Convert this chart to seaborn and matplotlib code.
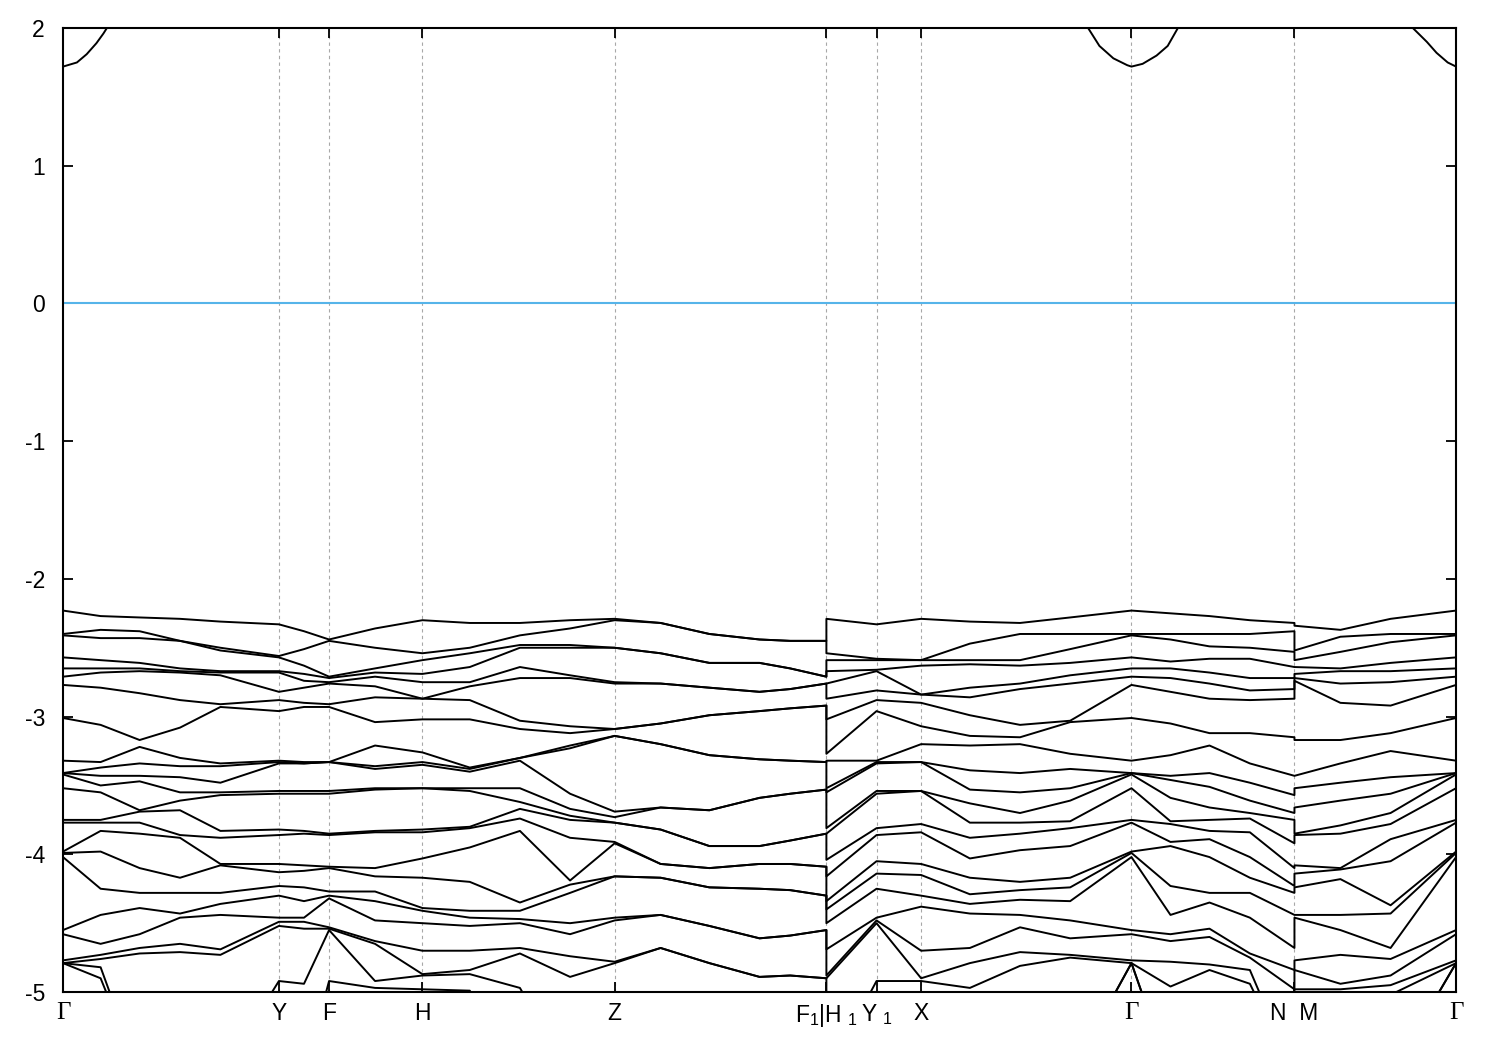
import matplotlib
matplotlib.use('Agg')
import matplotlib.pyplot as plt
import pandas as pd
import seaborn as sns

# --- High-symmetry path (k as fraction of total path length) ---
K_TICKS = [0.000, 0.155, 0.191, 0.258, 0.396, 0.548, 0.584, 0.616, 0.767, 0.884, 1.000]
K_LABELS = ['Γ', 'Y', 'F', 'H', 'Z', 'F$_1$|H $_1$', 'Y $_1$', 'X', 'Γ', 'N  M', 'Γ']

# --- Valence band energies (eV) read at each k point, top to bottom ---
E_GAMMA = [-2.23, -2.40, -2.41, -2.57, -2.65, -2.71, -2.77, -3.01, -3.32, -3.41, -3.41, -3.42,
           -3.52, -3.75, -3.77, -3.98, -3.99, -4.02, -4.55, -4.58, -4.77, -4.79, -4.79, -4.79]
E_027 = [-2.27, -2.37, -2.43, -2.59, -2.65, -2.68, -2.79, -3.06, -3.33, -3.37, -3.43, -3.50,
         -3.55, -3.75, -3.77, -3.83, -3.98, -4.25, -4.44, -4.65, -4.73, -4.76, -4.82, -4.90]
E_055 = [-2.28, -2.38, -2.43, -2.61, -2.65, -2.67, -2.83, -3.17, -3.22, -3.34, -3.43, -3.47,
         -3.68, -3.69, -3.77, -3.85, -4.10, -4.28, -4.39, -4.58, -4.68, -4.72]
E_084 = [-2.29, -2.45, -2.45, -2.65, -2.67, -2.68, -2.88, -3.08, -3.30, -3.36, -3.44, -3.55,
         -3.61, -3.68, -3.86, -3.88, -4.17, -4.28, -4.43, -4.46, -4.65, -4.71]
E_113 = [-2.31, -2.50, -2.52, -2.67, -2.68, -2.70, -2.91, -2.93, -3.34, -3.36, -3.48, -3.55,
         -3.57, -3.83, -3.88, -4.07, -4.08, -4.28, -4.36, -4.44, -4.69, -4.73]
E_Y = [-2.33, -2.56, -2.57, -2.67, -2.68, -2.82, -2.88, -2.96, -3.32, -3.33, -3.34, -3.54,
       -3.56, -3.82, -3.86, -4.07, -4.13, -4.23, -4.30, -4.46, -4.49, -4.52, -4.92]
E_173 = [-2.38, -2.51, -2.63, -2.69, -2.74, -2.79, -2.90, -2.93, -3.33, -3.34, -3.34, -3.54,
         -3.56, -3.83, -3.85, -4.08, -4.12, -4.24, -4.34, -4.46, -4.49, -4.54, -4.94]
E_F = [-2.44, -2.45, -2.71, -2.72, -2.75, -2.76, -2.91, -2.93, -3.33, -3.33, -3.33, -3.54,
       -3.56, -3.85, -3.86, -4.09, -4.10, -4.27, -4.30, -4.32, -4.53, -4.54, -4.55, -4.92]
E_224 = [-2.36, -2.50, -2.65, -2.68, -2.71, -2.78, -2.86, -3.04, -3.21, -3.36, -3.38, -3.52,
         -3.53, -3.83, -3.84, -4.10, -4.16, -4.27, -4.34, -4.48, -4.63, -4.65, -4.92, -4.97]
E_H = [-2.30, -2.54, -2.59, -2.69, -2.75, -2.87, -2.87, -3.02, -3.26, -3.33, -3.35, -3.52,
       -3.52, -3.82, -3.84, -4.03, -4.17, -4.39, -4.41, -4.50, -4.70, -4.87, -4.88, -4.98]
E_292 = [-2.32, -2.50, -2.54, -2.64, -2.75, -2.78, -2.88, -3.02, -3.37, -3.38, -3.40, -3.52,
         -3.54, -3.80, -3.81, -3.95, -4.20, -4.41, -4.46, -4.52, -4.70, -4.84, -4.87, -4.99]
E_328 = [-2.32, -2.41, -2.48, -2.50, -2.64, -2.72, -3.03, -3.09, -3.30, -3.30, -3.32, -3.52,
         -3.62, -3.67, -3.74, -3.83, -4.35, -4.41, -4.47, -4.50, -4.68, -4.72, -4.97]
E_364 = [-2.30, -2.36, -2.48, -2.50, -2.70, -2.72, -3.07, -3.12, -3.21, -3.23, -3.56, -3.67,
         -3.72, -3.75, -3.88, -4.19, -4.22, -4.28, -4.50, -4.58, -4.74, -4.89]
E_Z = [-2.29, -2.30, -2.50, -2.50, -2.75, -2.76, -3.09, -3.09, -3.14, -3.14, -3.69, -3.73,
       -3.77, -3.77, -3.91, -3.92, -4.16, -4.16, -4.46, -4.48, -4.78, -4.79]
# Z -> F1 bands are doubly degenerate
E_429 = [-2.32, -2.54, -2.76, -3.05, -3.20, -3.66, -3.82, -4.07, -4.17, -4.44, -4.68] * 2
E_464 = [-2.40, -2.61, -2.79, -2.99, -3.28, -3.68, -3.94, -4.10, -4.24, -4.52, -4.79] * 2
E_500 = [-2.44, -2.61, -2.82, -2.96, -3.31, -3.59, -3.94, -4.07, -4.25, -4.61, -4.89] * 2
E_522 = [-2.45, -2.65, -2.80, -2.94, -3.32, -3.56, -3.90, -4.07, -4.26, -4.59, -4.88] * 2
E_F1 = [-2.45, -2.71, -2.76, -2.92, -3.33, -3.53, -3.85, -4.09, -4.30, -4.55, -4.90] * 2
E_H1 = [-2.29, -2.54, -2.59, -2.67, -2.76, -2.87, -3.02, -3.27, -3.32, -3.52, -3.55, -3.81,
        -3.85, -4.04, -4.16, -4.34, -4.40, -4.50, -4.69, -4.88, -4.90]
E_Y1 = [-2.33, -2.58, -2.59, -2.66, -2.67, -2.81, -2.88, -2.96, -3.32, -3.33, -3.34, -3.54,
        -3.56, -3.81, -3.86, -4.05, -4.14, -4.25, -4.46, -4.48, -4.50, -4.92]
E_X = [-2.29, -2.59, -2.59, -2.63, -2.84, -2.84, -2.90, -3.07, -3.20, -3.33, -3.33, -3.54,
       -3.54, -3.78, -3.84, -4.07, -4.15, -4.30, -4.38, -4.70, -4.90, -4.92]
E_651 = [-2.31, -2.47, -2.59, -2.62, -2.79, -2.86, -2.99, -3.14, -3.21, -3.39, -3.53, -3.63,
         -3.77, -3.88, -4.03, -4.17, -4.29, -4.36, -4.43, -4.68, -4.79, -4.97]
E_687 = [-2.32, -2.40, -2.59, -2.63, -2.76, -2.80, -3.06, -3.15, -3.20, -3.41, -3.55, -3.70,
         -3.77, -3.85, -3.97, -4.20, -4.26, -4.33, -4.44, -4.53, -4.71, -4.81]
E_723 = [-2.28, -2.40, -2.51, -2.61, -2.70, -2.76, -3.03, -3.04, -3.27, -3.38, -3.52, -3.61,
         -3.76, -3.81, -3.94, -4.17, -4.24, -4.34, -4.48, -4.61, -4.73, -4.75]
E_795 = [-2.25, -2.40, -2.44, -2.60, -2.65, -2.72, -2.82, -3.05, -3.28, -3.43, -3.46, -3.59,
         -3.76, -3.78, -3.91, -3.94, -4.23, -4.44, -4.58, -4.63, -4.78, -4.96]
E_823 = [-2.27, -2.40, -2.49, -2.58, -2.68, -2.76, -2.87, -3.12, -3.21, -3.41, -3.51, -3.66,
         -3.75, -3.83, -3.89, -4.02, -4.28, -4.35, -4.54, -4.60, -4.80, -4.84]
E_852 = [-2.30, -2.40, -2.50, -2.58, -2.72, -2.81, -2.88, -3.12, -3.34, -3.48, -3.61, -3.70,
         -3.74, -3.84, -4.02, -4.17, -4.28, -4.46, -4.72, -4.75, -4.84, -4.94]
E_N = [-2.32, -2.38, -2.53, -2.64, -2.72, -2.80, -2.87, -3.15, -3.43, -3.57, -3.70, -3.75,
       -3.92, -4.10, -4.23, -4.28, -4.44, -4.68, -4.84, -4.98]
E_M = [-2.34, -2.52, -2.59, -2.64, -2.69, -2.72, -2.74, -3.17, -3.43, -3.52, -3.66, -3.85,
       -3.86, -4.08, -4.14, -4.24, -4.44, -4.46, -4.77, -4.84, -4.98]
E_917 = [-2.37, -2.42, -2.53, -2.65, -2.67, -2.76, -2.90, -3.17, -3.34, -3.48, -3.61, -3.79,
         -3.85, -4.10, -4.11, -4.18, -4.44, -4.55, -4.73, -4.94, -4.98]
E_953 = [-2.29, -2.40, -2.46, -2.61, -2.67, -2.75, -2.92, -3.12, -3.25, -3.44, -3.56, -3.70,
         -3.78, -3.89, -4.05, -4.37, -4.43, -4.68, -4.76, -4.88, -4.95, -5.02]

K_POINTS = [0.000, 0.027, 0.055, 0.084, 0.113, 0.155, 0.173, 0.191, 0.224, 0.258, 0.292,
            0.328, 0.364, 0.396, 0.429, 0.464, 0.500, 0.522, 0.548, 0.548, 0.584, 0.616,
            0.651, 0.687, 0.723, 0.767, 0.795, 0.823, 0.852, 0.884, 0.884, 0.917, 0.953, 1.000]
E_COLUMNS = [E_GAMMA, E_027, E_055, E_084, E_113, E_Y, E_173, E_F, E_224, E_H, E_292,
             E_328, E_364, E_Z, E_429, E_464, E_500, E_522, E_F1, E_H1, E_Y1, E_X,
             E_651, E_687, E_723, E_GAMMA, E_795, E_823, E_852, E_N, E_M, E_917, E_953, E_GAMMA]

# --- Lowest conduction band near each Gamma point (eV) ---
CB_K = [[0.000, 0.010, 0.017, 0.024, 0.029, 0.034],
        [0.734, 0.744, 0.754, 0.764, 0.767, 0.775, 0.785, 0.793, 0.802],
        [0.967, 0.979, 0.986, 0.994, 1.000]]
CB_E = [[1.72, 1.75, 1.81, 1.89, 1.96, 2.04],
        [2.03, 1.87, 1.78, 1.73, 1.72, 1.74, 1.80, 1.87, 2.03],
        [2.02, 1.90, 1.82, 1.75, 1.72]]

N_BANDS = 26
BELOW_WINDOW = -5.6   # bands that drop out of the plotted window

rows = []
for k, col in zip(K_POINTS, E_COLUMNS):
    vals = sorted(col, reverse=True)
    vals += [BELOW_WINDOW] * (N_BANDS - len(vals))
    for b, e in enumerate(vals):
        rows.append((b, k, e))
for i, (ks, es) in enumerate(zip(CB_K, CB_E)):
    for k, e in zip(ks, es):
        rows.append((100 + i, k, e))
df = pd.DataFrame(rows, columns=['band', 'k', 'E'])

sns.set_theme(style='ticks')
plt.rcParams['font.family'] = ['Liberation Sans', 'DejaVu Sans']
plt.rcParams['mathtext.fontset'] = 'custom'
plt.rcParams['mathtext.rm'] = 'Liberation Sans'
plt.rcParams['mathtext.it'] = 'Liberation Sans'
plt.rcParams['axes.unicode_minus'] = False

fig = plt.figure(figsize=(15, 10.5), dpi=100)
ax = fig.add_axes([0.042, 0.0552, 0.9287, 0.9181])

for k in K_TICKS[1:-1]:
    ax.axvline(k, color='#a8a8a8', ls=(0, (3, 3)), lw=0.8, zorder=0)
ax.axhline(0, color='#56b4e9', lw=1.5, zorder=1)

sns.lineplot(data=df, x='k', y='E', units='band', estimator=None, sort=False,
             color='black', lw=1.4, ax=ax, legend=False)

ax.set_xlim(0, 1)
ax.set_ylim(-5, 2)
ax.set_xticks(K_TICKS)
ax.set_xticklabels(K_LABELS)
ax.set_yticks(range(-5, 3))
ax.set_xlabel('')
ax.set_ylabel('')
ax.tick_params(axis='both', direction='in', length=7, width=1.3, labelsize=16.5,
               top=True, right=True, colors='black')
ax.tick_params(axis='x', pad=7)
ax.tick_params(axis='y', pad=13)
for lbl in ax.get_xticklabels():
    if lbl.get_text() == 'Γ':
        lbl.set_fontfamily('Liberation Serif')
        lbl.set_fontsize(18)
for s in ax.spines.values():
    s.set_linewidth(1.5)
    s.set_color('black')

fig.savefig('out.png', dpi=100)
